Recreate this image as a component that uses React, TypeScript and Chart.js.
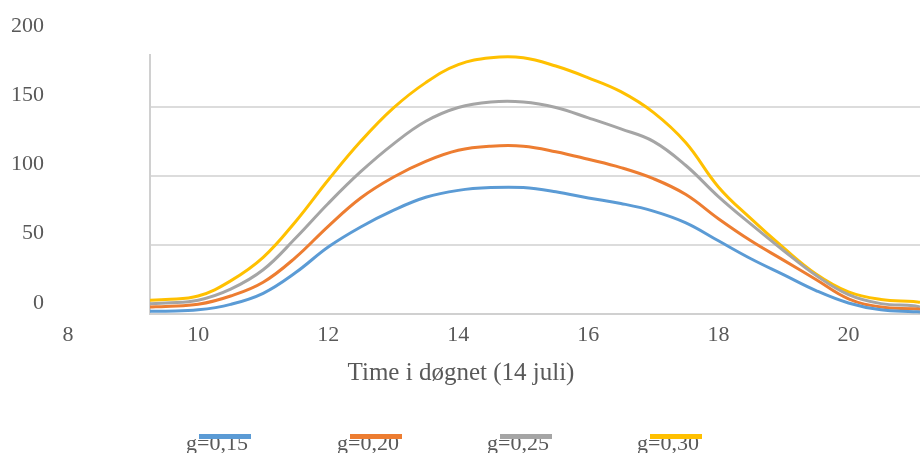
import React, { useEffect, useRef } from "react";
import { Chart, registerables } from "chart.js";

Chart.register(...registerables);

const hours = [9.26, 9.5, 10, 10.5, 11, 11.5, 12, 12.5, 13, 13.5, 14, 14.5, 15, 15.5, 16, 16.5, 17, 17.5, 18, 18.5, 19, 19.5, 20, 20.5, 21, 21.1];
const g015 = [2, 2, 3, 7, 15, 30, 48.5, 63, 75, 84.5, 89.5, 91.5, 91.5, 88.5, 84, 80, 74.5, 66, 53, 40, 28.5, 17, 8, 3, 1.7, 1.5];
const g020 = [5, 5.5, 7, 13, 23, 41, 63.5, 84, 99, 110.5, 118.5, 121.5, 121.5, 117.5, 112, 106, 98, 86.5, 69, 53, 39, 25, 11, 5, 3.8, 3.5];
const g025 = [7.5, 8, 10, 18, 32, 55, 80, 103, 123, 139.5, 149.5, 153.5, 153.5, 149.5, 142, 134, 125, 107.5, 85, 65, 46, 28, 14, 7.5, 6, 5];
const g030 = [10, 10.5, 13, 24, 41, 67, 97, 125, 149, 167.5, 180.5, 185.5, 185.5, 179.5, 171, 161, 146, 124, 92, 69, 48, 29, 16, 10.5, 9, 8.5];

const seriesLabels = ["g=0,15", "g=0,20", "g=0,25", "g=0,30"];
const seriesColors = ["#5b9bd5", "#ed7d31", "#a5a5a5", "#ffc000"];
const yTickValues = [0, 50, 100, 150, 200];
const xTickValues = [8, 10, 12, 14, 16, 18, 20];
const xTitle = "Time i døgnet (14 juli)";

const FONT = '"Liberation Serif", "Times New Roman", serif';
const TEXT = "#595959";

const textPlugin = {
  id: "customText",
  afterDraw(chart: any) {
    const ctx = chart.ctx;
    const xs = chart.scales.x;
    const ys = chart.scales.y;
    ctx.save();
    ctx.fillStyle = TEXT;
    ctx.font = `22px ${FONT}`;
    ctx.textBaseline = "alphabetic";
    ctx.textAlign = "right";
    yTickValues.forEach((v) => {
      ctx.fillText(String(v), 44, ys.getPixelForValue(v) - 5.5);
    });
    ctx.textAlign = "center";
    xTickValues.forEach((v) => {
      ctx.fillText(String(v), xs.getPixelForValue(v), 341);
    });
    ctx.font = `25px ${FONT}`;
    ctx.fillText(xTitle, 461, 380);
    ctx.font = `22px ${FONT}`;
    ctx.textAlign = "left";
    const starts = [186, 337, 487, 637];
    seriesLabels.forEach((lab, i) => {
      ctx.fillStyle = TEXT;
      ctx.fillText(lab, starts[i], 450);
      ctx.fillStyle = seriesColors[i];
      ctx.fillRect(starts[i] + 13, 434, 52, 5);
    });
    ctx.restore();
  },
};

export default function App() {
  const ref = useRef<HTMLCanvasElement | null>(null);
  useEffect(() => {
    if (!ref.current) return;
    const series = [g015, g020, g025, g030];
    const chart = new Chart(ref.current, {
      type: "line",
      data: {
        datasets: series.map((vals, i) => ({
          label: seriesLabels[i],
          data: vals.map((y, j) => ({ x: hours[j], y })),
          borderColor: seriesColors[i],
          backgroundColor: seriesColors[i],
          borderWidth: 3,
          pointRadius: 0,
          tension: 0.4,
          fill: false,
        })),
      },
      options: {
        responsive: false,
        animation: false,
        devicePixelRatio: 1,
        layout: { padding: { left: 150, top: 55, right: 0, bottom: 139 } },
        plugins: { legend: { display: false }, tooltip: { enabled: false } },
        scales: {
          x: {
            type: "linear",
            min: 9.26,
            max: 21.1,
            ticks: { display: false },
            grid: { display: false, drawTicks: false },
            border: { display: true, color: "#d0d0d0", width: 2 },
          },
          y: {
            min: 0,
            max: 187.5,
            afterBuildTicks: (scale: any) => {
              scale.ticks = [0, 50, 100, 150].map((v) => ({ value: v }));
            },
            ticks: { display: false },
            grid: { color: "#dcdcdc", lineWidth: 2, drawTicks: false },
            border: { display: true, color: "#d0d0d0", width: 2 },
          },
        },
      },
      plugins: [textPlugin],
    });
    return () => chart.destroy();
  }, []);
  return (
    <div style={{ position: "fixed", left: 0, top: 0, width: 920, height: 453, background: "#fff" }}>
      <canvas ref={ref} width={920} height={453} />
    </div>
  );
}
